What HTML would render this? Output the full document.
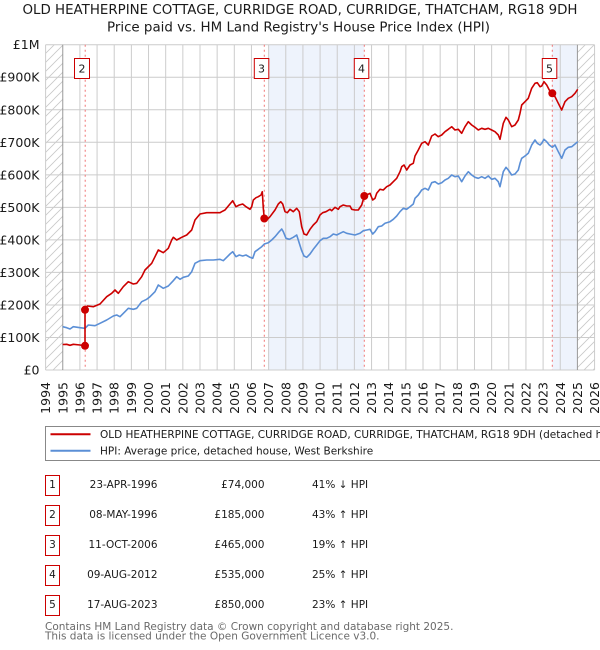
<!DOCTYPE html>
<html><head><meta charset="utf-8"><style>
html,body{margin:0;padding:0;background:#fff;}
svg{display:block;font-family:"DejaVu Sans","Liberation Sans",sans-serif;}
</style></head><body>
<svg width="600" height="650" viewBox="0 0 600 650" xmlns="http://www.w3.org/2000/svg">
<defs>
<pattern id="h" patternUnits="userSpaceOnUse" width="9" height="9">
<path d="M0,9 L9,0 M-1,1 L1,-1 M8,10 L10,8" stroke="#c8c8c8" stroke-width="0.8"/>
</pattern>
</defs>
<rect width="600" height="650" fill="#fff"/>
<text x="300" y="14" text-anchor="middle" font-size="13.2" fill="#1a1a1a" textLength="555" lengthAdjust="spacingAndGlyphs">OLD HEATHERPINE COTTAGE, CURRIDGE ROAD, CURRIDGE, THATCHAM, RG18 9DH</text>
<text x="298.5" y="31.5" text-anchor="middle" font-size="13.2" fill="#1a1a1a" textLength="383" lengthAdjust="spacingAndGlyphs">Price paid vs. HM Land Registry's House Price Index (HPI)</text>

<!-- shading -->
<rect x="268.6" y="44.7" width="95.7" height="325.3" fill="#eef3fc"/>
<rect x="552.3" y="44.7" width="25.1" height="325.3" fill="#eef3fc"/>
<!-- hatch -->
<rect x="45.6" y="44.7" width="17.16" height="325.3" fill="url(#h)"/>
<rect x="577.41" y="44.7" width="17.15" height="325.3" fill="url(#h)"/>

<!-- grid -->
<g stroke="#cccccc" stroke-width="1">
<line x1="45.6" x2="594.56" y1="370" y2="370"/>
<line x1="45.6" x2="594.56" y1="337.47" y2="337.47"/>
<line x1="45.6" x2="594.56" y1="304.94" y2="304.94"/>
<line x1="45.6" x2="594.56" y1="272.41" y2="272.41"/>
<line x1="45.6" x2="594.56" y1="239.88" y2="239.88"/>
<line x1="45.6" x2="594.56" y1="207.35" y2="207.35"/>
<line x1="45.6" x2="594.56" y1="174.82" y2="174.82"/>
<line x1="45.6" x2="594.56" y1="142.29" y2="142.29"/>
<line x1="45.6" x2="594.56" y1="109.76" y2="109.76"/>
<line x1="45.6" x2="594.56" y1="77.23" y2="77.23"/>
<line x1="45.6" x2="594.56" y1="44.7" y2="44.7"/>
<line y1="44.7" y2="370" x1="45.6" x2="45.6"/>
<line y1="44.7" y2="370" x1="79.91" x2="79.91"/>
<line y1="44.7" y2="370" x1="97.07" x2="97.07"/>
<line y1="44.7" y2="370" x1="114.22" x2="114.22"/>
<line y1="44.7" y2="370" x1="131.38" x2="131.38"/>
<line y1="44.7" y2="370" x1="148.53" x2="148.53"/>
<line y1="44.7" y2="370" x1="165.69" x2="165.69"/>
<line y1="44.7" y2="370" x1="182.84" x2="182.84"/>
<line y1="44.7" y2="370" x1="200" x2="200"/>
<line y1="44.7" y2="370" x1="217.15" x2="217.15"/>
<line y1="44.7" y2="370" x1="234.31" x2="234.31"/>
<line y1="44.7" y2="370" x1="251.46" x2="251.46"/>
<line y1="44.7" y2="370" x1="268.62" x2="268.62"/>
<line y1="44.7" y2="370" x1="285.77" x2="285.77"/>
<line y1="44.7" y2="370" x1="302.93" x2="302.93"/>
<line y1="44.7" y2="370" x1="320.08" x2="320.08"/>
<line y1="44.7" y2="370" x1="337.24" x2="337.24"/>
<line y1="44.7" y2="370" x1="354.39" x2="354.39"/>
<line y1="44.7" y2="370" x1="371.55" x2="371.55"/>
<line y1="44.7" y2="370" x1="388.7" x2="388.7"/>
<line y1="44.7" y2="370" x1="405.86" x2="405.86"/>
<line y1="44.7" y2="370" x1="423.01" x2="423.01"/>
<line y1="44.7" y2="370" x1="440.17" x2="440.17"/>
<line y1="44.7" y2="370" x1="457.32" x2="457.32"/>
<line y1="44.7" y2="370" x1="474.48" x2="474.48"/>
<line y1="44.7" y2="370" x1="491.63" x2="491.63"/>
<line y1="44.7" y2="370" x1="508.79" x2="508.79"/>
<line y1="44.7" y2="370" x1="525.94" x2="525.94"/>
<line y1="44.7" y2="370" x1="543.1" x2="543.1"/>
<line y1="44.7" y2="370" x1="560.25" x2="560.25"/>
<line y1="44.7" y2="370" x1="594.56" x2="594.56"/>
</g>
<g stroke="#999" stroke-width="1">
<line y1="44.7" y2="370" x1="62.76" x2="62.76"/>
<line y1="44.7" y2="370" x1="577.41" x2="577.41"/>
</g>

<!-- sale lines -->
<g stroke="#f07575" stroke-width="1" stroke-dasharray="2,3">
<line x1="85.2" x2="85.2" y1="44.7" y2="370"/>
<line x1="264.3" x2="264.3" y1="44.7" y2="370"/>
<line x1="364.3" x2="364.3" y1="44.7" y2="370"/>
<line x1="552.3" x2="552.3" y1="44.7" y2="370"/>
</g>

<!-- y labels -->
<g font-size="12.5" fill="#1a1a1a" text-anchor="end">
<text x="39.5" y="374.5">£0</text>
<text x="39.5" y="342">£100K</text>
<text x="39.5" y="309.4">£200K</text>
<text x="39.5" y="276.9">£300K</text>
<text x="39.5" y="244.4">£400K</text>
<text x="39.5" y="211.8">£500K</text>
<text x="39.5" y="179.3">£600K</text>
<text x="39.5" y="146.8">£700K</text>
<text x="39.5" y="114.3">£800K</text>
<text x="39.5" y="81.7">£900K</text>
<text x="39.5" y="49.2">£1M</text>
</g>

<!-- x labels -->
<g font-size="12.5" fill="#1a1a1a" text-anchor="end">
<text transform="translate(50.1,382) rotate(-90)">1994</text>
<text transform="translate(67.26,382) rotate(-90)">1995</text>
<text transform="translate(84.41,382) rotate(-90)">1996</text>
<text transform="translate(101.57,382) rotate(-90)">1997</text>
<text transform="translate(118.72,382) rotate(-90)">1998</text>
<text transform="translate(135.88,382) rotate(-90)">1999</text>
<text transform="translate(153.03,382) rotate(-90)">2000</text>
<text transform="translate(170.19,382) rotate(-90)">2001</text>
<text transform="translate(187.34,382) rotate(-90)">2002</text>
<text transform="translate(204.5,382) rotate(-90)">2003</text>
<text transform="translate(221.65,382) rotate(-90)">2004</text>
<text transform="translate(238.81,382) rotate(-90)">2005</text>
<text transform="translate(255.96,382) rotate(-90)">2006</text>
<text transform="translate(273.12,382) rotate(-90)">2007</text>
<text transform="translate(290.27,382) rotate(-90)">2008</text>
<text transform="translate(307.43,382) rotate(-90)">2009</text>
<text transform="translate(324.58,382) rotate(-90)">2010</text>
<text transform="translate(341.74,382) rotate(-90)">2011</text>
<text transform="translate(358.89,382) rotate(-90)">2012</text>
<text transform="translate(376.05,382) rotate(-90)">2013</text>
<text transform="translate(393.2,382) rotate(-90)">2014</text>
<text transform="translate(410.36,382) rotate(-90)">2015</text>
<text transform="translate(427.51,382) rotate(-90)">2016</text>
<text transform="translate(444.67,382) rotate(-90)">2017</text>
<text transform="translate(461.82,382) rotate(-90)">2018</text>
<text transform="translate(478.98,382) rotate(-90)">2019</text>
<text transform="translate(496.13,382) rotate(-90)">2020</text>
<text transform="translate(513.29,382) rotate(-90)">2021</text>
<text transform="translate(530.44,382) rotate(-90)">2022</text>
<text transform="translate(547.6,382) rotate(-90)">2023</text>
<text transform="translate(564.75,382) rotate(-90)">2024</text>
<text transform="translate(581.91,382) rotate(-90)">2025</text>
<text transform="translate(599.06,382) rotate(-90)">2026</text>
</g>

<!-- HPI line -->
<polyline fill="none" stroke="#5b8fd6" stroke-width="1.6" stroke-linejoin="round" points="62.7,326.7 66.7,327.7 70,329 73.3,326.7 80,327.7 85,328.3 88.3,325 95,325.7 100,323.3 106.7,320 113.3,316 116.7,315 120,316.7 125,311.7 128.3,308.3 133.3,309.3 136.7,308.3 141.7,301.7 146.7,299.3 150,296.7 155,291.7 158.3,285 163.3,288.3 168.3,286 173.3,280.7 176.7,276.7 180,279.3 183.3,277.3 188.3,276 191.7,271.7 195,263.3 200,260.7 206.7,260 213.3,260 220,259.3 223.3,260.7 226.7,257.3 230,254 232.7,251.7 236,256.7 239.3,255 242.7,256 246,255 250,257.3 252.7,258.3 255,251.7 258.3,249.3 261.7,246.7 264.3,244 268.3,242.7 271.7,240 275,236.7 278.3,232.7 281.7,229 283.3,231.7 286,238.3 289.3,239.3 293.3,237.3 296.7,235 299.3,243.3 301.7,250.7 304,256 306.7,257.3 310,254 313.3,249.3 316.7,245 320,240.7 323.3,238.3 326.7,238.3 330,236.7 333.3,234 336.7,235 340,233.3 343.3,231.7 346.7,233.3 350,234 355,235 360,233.3 363.3,230.7 366.7,230 370,229.3 372.7,234 375,231.7 378.3,226.7 381.7,226 385,223.3 390,221.7 393.3,219.3 396.7,216 400,211.7 403.3,208.3 406.7,209.3 410,206.7 413.3,204 415,198.3 418.3,195 421.7,190 425,188.3 428.3,190 431.7,182.7 435,181.7 438.3,184 441.7,182.7 445,180 448.3,178.3 451.7,175 455,176.7 458.3,176 461.7,181.7 465,176 468.3,171.7 471.7,175 475,177.3 478.3,178.3 481.7,176.7 485,178.3 488.3,176 491.7,179.3 495,178.3 498.3,181.7 500,186.7 503.3,171.7 506,167.3 508.3,170 511.7,175 515,174 518.3,170 520,163.3 521.7,158.3 525,156 528.3,153.3 531.7,145 535,140 537.3,143.3 540,145 541.7,143.3 544,139.3 546.7,141.7 549.3,145 552.3,147.3 555,145 558.3,151.7 561.7,158.3 565,150 568.3,147.3 571.7,146.7 575,144 577.7,141.7"/>

<!-- price paid line -->
<polyline fill="none" stroke="#cc0000" stroke-width="1.6" stroke-linejoin="round" points="62.7,344.5 66.7,344.3 70,345.3 73.3,344.3 80,345 85,345.8 85,309.8 87.3,306 93.3,306.7 100,304 106.7,296.7 111.7,293.3 115,290 118.3,293.3 123.3,286.7 128.3,281.7 133.3,284 136.7,283.3 141.7,276.7 145,270 151.7,263.3 155,256.7 158.3,250 163.3,252.7 168.3,248.3 171.7,240 173.3,237.3 176.7,240 181.7,237.3 186.7,235 191.7,230 195,220 200,214 206.7,212.7 213.3,212.7 220,212.7 221.7,211.7 225,210 228.3,206 232.7,200.7 236,206.7 239.3,205 242.7,204 246,206.7 250,209.3 251.7,206.7 253.3,200 256,197.7 258.3,196.7 261,195 262.3,191.7 263.3,208.3 264.3,218.5 266.7,220 270,216.7 275,210 278.3,204 280.7,201.7 282.7,204 285,211.7 287.3,212.7 290,209.3 293.3,211.7 296.7,208.3 299.3,211.7 301.7,226.7 304,234 306.7,235 310,229.3 313.3,225 316.7,221.7 320,215 322.7,212.7 326,211.7 330,209.3 331.7,210.7 335,207.3 338.3,209.3 340,206.7 343.3,205 346.7,206 350,206 351.7,209.3 355,210 358.3,210 361.7,205 364.3,196 366.7,195 370,193.3 372.7,200 375,198.3 376.7,193.3 380,189.3 383.3,190 386.7,186.7 390,185 393.3,181.7 396.7,178.3 400,171.7 401.7,166.7 404,165 406.7,170 410,165 413.3,163.3 415,156 418.3,150 421.7,143.3 425,141.7 428.3,145 431.7,136 435,134 438.3,136.7 441.7,135 445,131.7 448.3,129.3 451.7,126.7 455,130 458.3,129.3 461.7,133.3 465,126.7 468.3,121.7 471.7,125 475,127.3 478.3,130 481.7,128.3 485,129.3 488.3,128.3 491.7,130 495,131.7 498.3,135 500,139.3 503.3,123.3 506,117.3 508.3,120 511.7,126.7 515,125 518.3,120 520,113.3 521.7,105 525,101.7 528.3,98.3 531.7,88.3 535,83.3 537.3,82.7 540,86.7 541.7,86 544,81.7 546.7,85 549.3,90 552.3,93.3 555,96.7 558.3,103.3 561.7,110 565,101.7 568.3,98.3 571.7,96.7 575,93.3 577.7,89.3"/>

<!-- markers -->
<g fill="#cc0000">
<circle cx="85" cy="345.8" r="4"/>
<circle cx="85" cy="309.8" r="4"/>
<circle cx="264.3" cy="218.5" r="4"/>
<circle cx="364.3" cy="196" r="4"/>
<circle cx="552.3" cy="93.3" r="4"/>
</g>

<!-- label boxes -->
<g fill="#fff" stroke="#cc0000" stroke-width="1">
<rect x="74.5" y="58.5" width="15" height="20"/>
<rect x="254.3" y="58.5" width="14.5" height="20"/>
<rect x="354.3" y="58.5" width="14.5" height="20"/>
<rect x="542.3" y="58.5" width="14.5" height="20"/>
</g>
<g font-size="11" fill="#1a1a1a" text-anchor="middle">
<text x="82" y="72.5">2</text>
<text x="261.5" y="72.5">3</text>
<text x="361.5" y="72.5">4</text>
<text x="549.5" y="72.5">5</text>
</g>

<!-- legend -->
<rect x="45.5" y="426.5" width="600" height="34" fill="#fff" stroke="#888" stroke-width="1"/>
<line x1="50.5" x2="90.5" y1="434.3" y2="434.3" stroke="#cc0000" stroke-width="2"/>
<line x1="50.5" x2="90.5" y1="450.7" y2="450.7" stroke="#5b8fd6" stroke-width="2"/>
<text x="100" y="438" font-size="10.5" fill="#1a1a1a">OLD HEATHERPINE COTTAGE, CURRIDGE ROAD, CURRIDGE, THATCHAM, RG18 9DH (detached house)</text>
<text x="100" y="454.5" font-size="10.5" fill="#1a1a1a">HPI: Average price, detached house, West Berkshire</text>

<!-- table -->
<g fill="#fff" stroke="#cc0000" stroke-width="1">
<rect x="45.5" y="475.5" width="14" height="20"/>
<rect x="45.5" y="505.5" width="14" height="20"/>
<rect x="45.5" y="535.5" width="14" height="20"/>
<rect x="45.5" y="565.5" width="14" height="20"/>
<rect x="45.5" y="595.5" width="14" height="20"/>
</g>
<g font-size="10.5" fill="#1a1a1a">
<g text-anchor="middle">
<text x="52.5" y="488">1</text>
<text x="52.5" y="518">2</text>
<text x="52.5" y="548">3</text>
<text x="52.5" y="578">4</text>
<text x="52.5" y="608">5</text>
</g>
<g text-anchor="end">
<text x="157.5" y="488">23-APR-1996</text>
<text x="157.5" y="518">08-MAY-1996</text>
<text x="157.5" y="548">11-OCT-2006</text>
<text x="157.5" y="578">09-AUG-2012</text>
<text x="157.5" y="608">17-AUG-2023</text>
<text x="264.5" y="488">£74,000</text>
<text x="264.5" y="518">£185,000</text>
<text x="264.5" y="548">£465,000</text>
<text x="264.5" y="578">£535,000</text>
<text x="264.5" y="608">£850,000</text>
</g>
<text x="312" y="488">41% ↓ HPI</text>
<text x="312" y="518">43% ↑ HPI</text>
<text x="312" y="548">19% ↑ HPI</text>
<text x="312" y="578">25% ↑ HPI</text>
<text x="312" y="608">23% ↑ HPI</text>
</g>

<!-- footer -->
<text x="45" y="630" font-size="10.5" fill="#6a6a6a">Contains HM Land Registry data © Crown copyright and database right 2025.</text>
<text x="45" y="639.5" font-size="10.5" fill="#6a6a6a">This data is licensed under the Open Government Licence v3.0.</text>
</svg>
</body></html>
